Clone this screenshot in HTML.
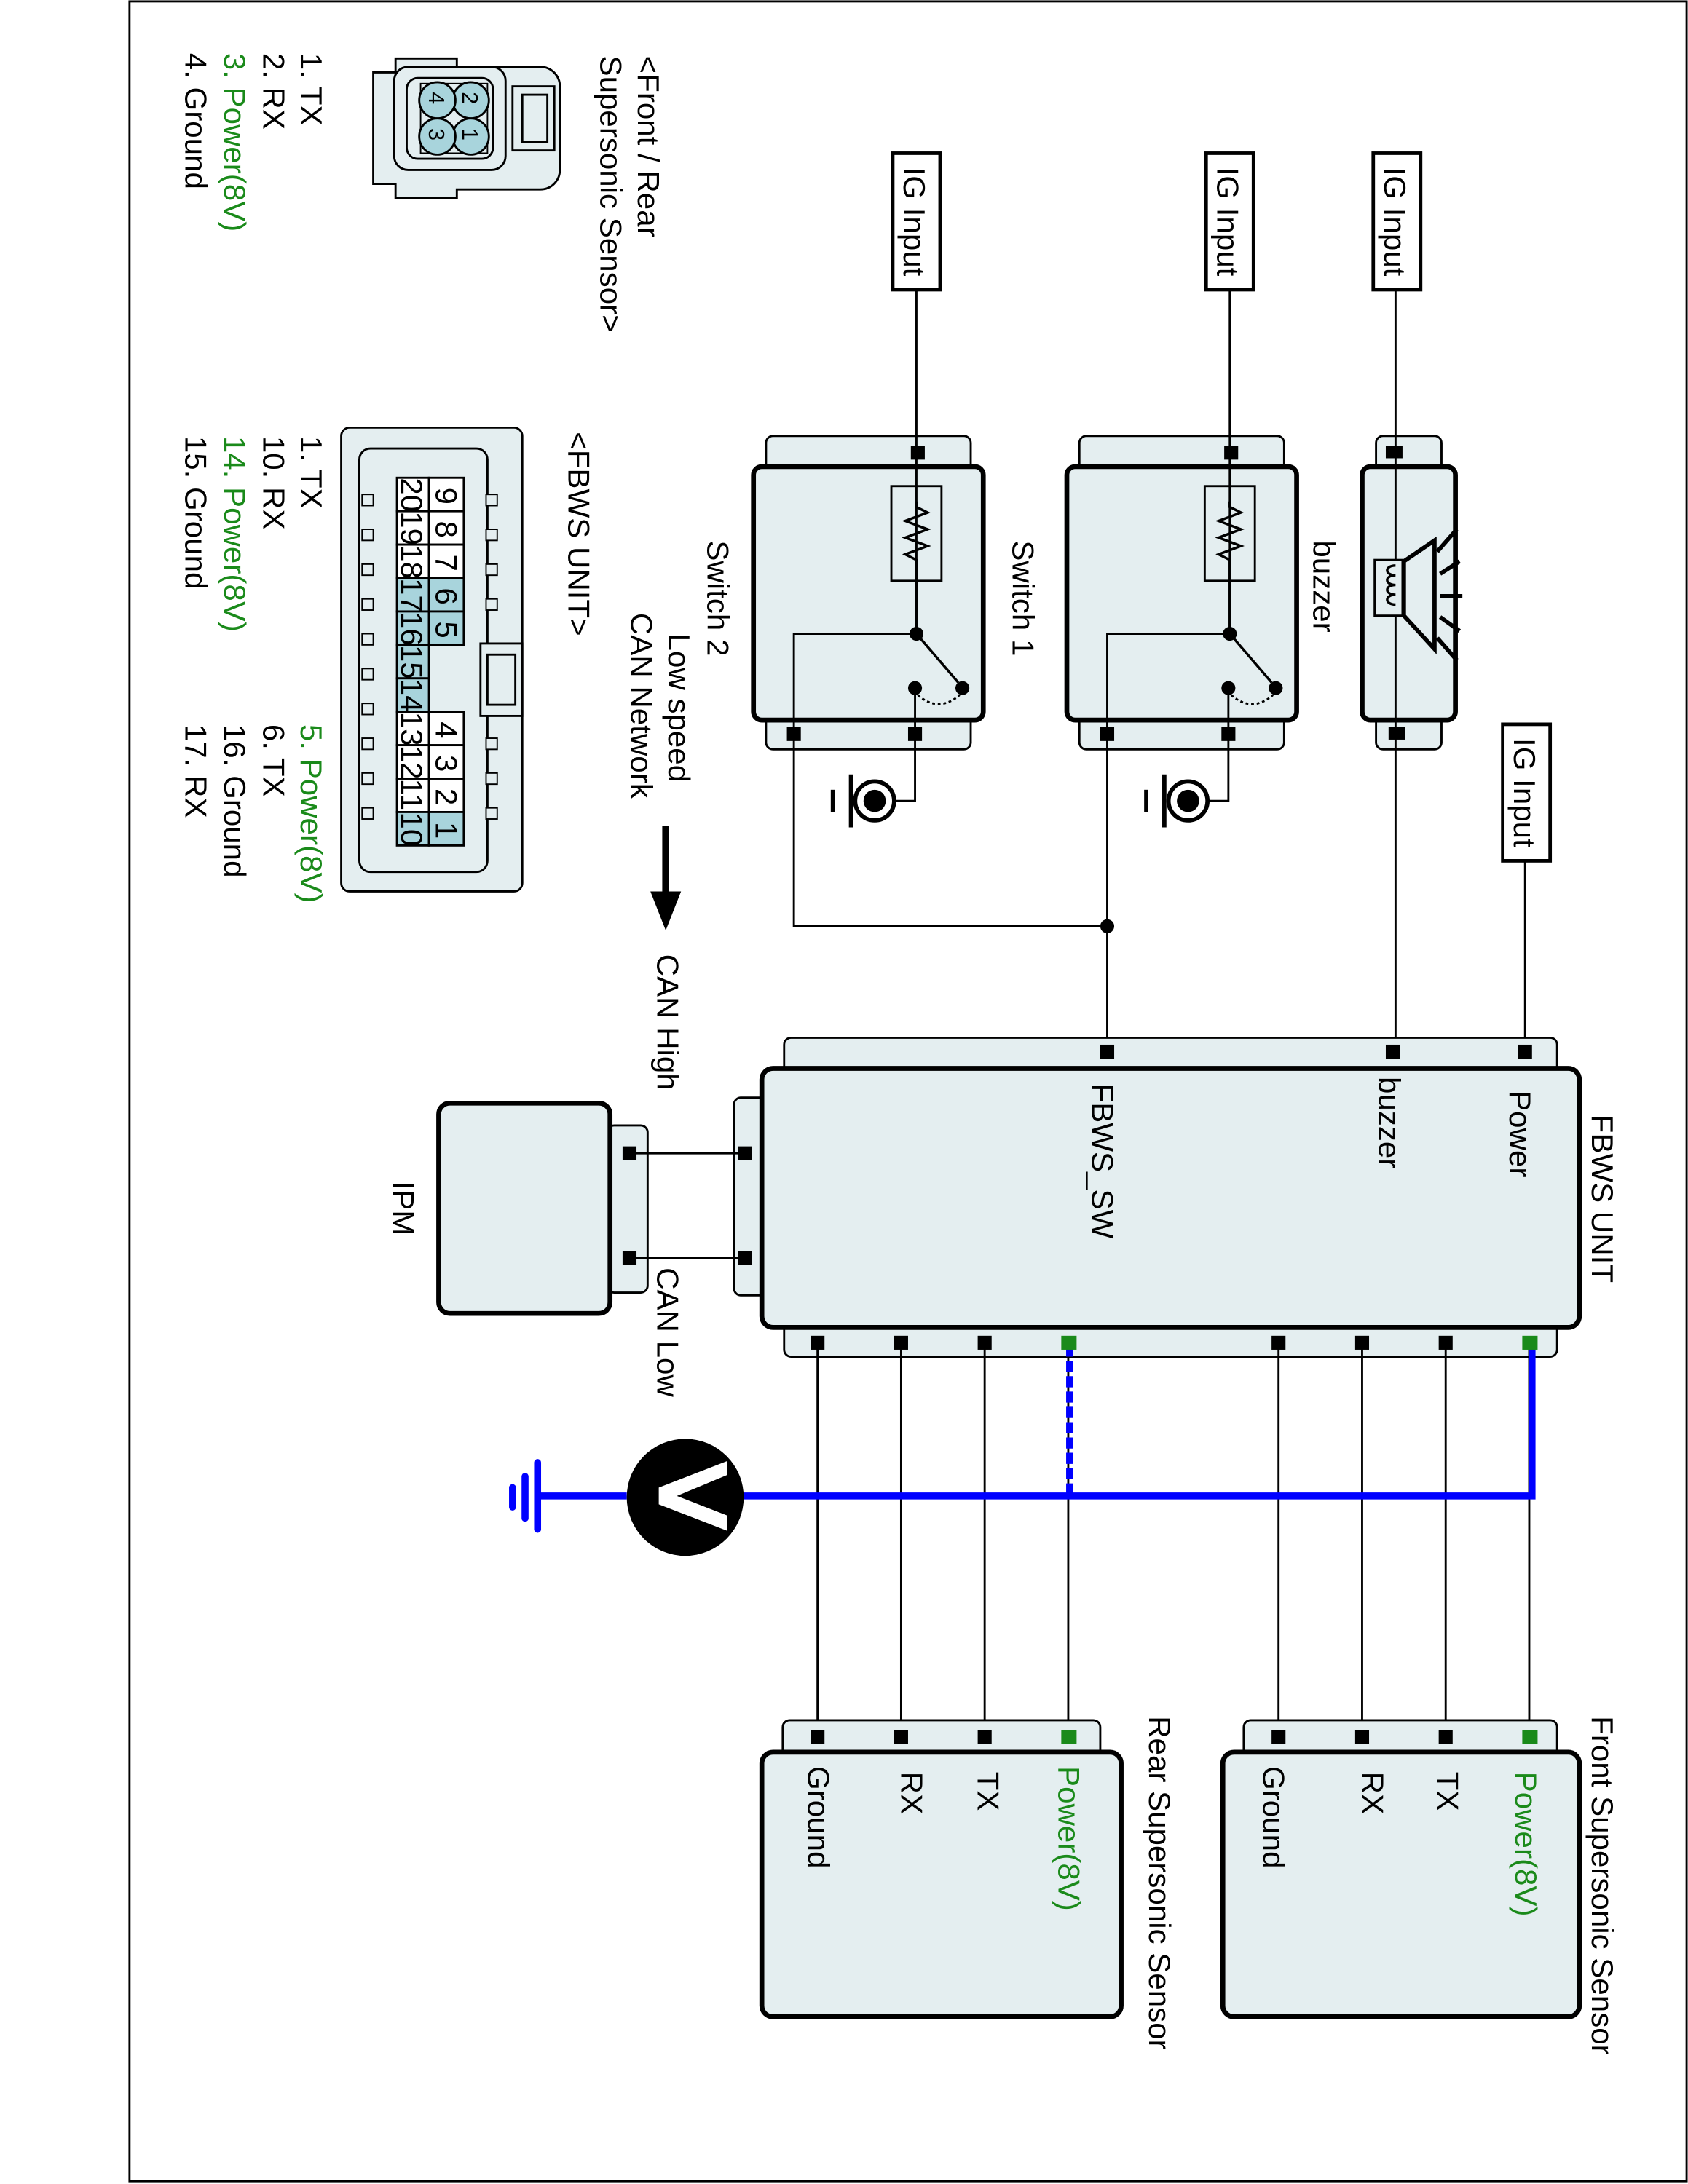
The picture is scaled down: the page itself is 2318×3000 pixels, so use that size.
<!DOCTYPE html>
<html><head><meta charset="utf-8"><style>
html,body{margin:0;padding:0;background:#fff}
svg{display:block}
text{font-family:"Liberation Sans",sans-serif;font-size:22px;fill:#000}
.g{fill:#1a8a1a}
.lf{fill:#e4eef0;stroke:#000;stroke-width:1.5}
.bx{fill:#e4eef0;stroke:#000;stroke-width:3.5}
.w{stroke:#000;stroke-width:1.5;fill:none}
</style></head><body>
<svg width="2318" height="3000" viewBox="0 0 1212 1568" preserveAspectRatio="none" xmlns="http://www.w3.org/2000/svg">
<rect x="93" y="1" width="1118" height="1565" fill="none" stroke="#000" stroke-width="1.5"/>

<!-- top-left sensor connector -->
<text transform="translate(458,40) rotate(90)">&lt;Front / Rear</text>
<text transform="translate(431,40) rotate(90)">Supersonic Sensor&gt;</text>
<g>
<path d="M268,52 h16 v-10 h44 v6 h60 a14,14 0 0 1 14,14 v60 a14,14 0 0 1 -14,14 h-60 v6 h-44 v-10 h-16 z" class="lf" stroke-width="1.5"/>
<rect x="283" y="48" width="80" height="74" rx="10" class="lf"/>
<rect x="292" y="56" width="62" height="58" rx="8" class="lf"/>
<rect x="368" y="62" width="30" height="46" class="lf"/>
<rect x="375" y="68" width="18" height="34" class="lf"/>
<rect x="302" y="60" width="48" height="50" fill="none" stroke="#000" stroke-width="1"/>
<circle cx="338" cy="72" r="13" fill="#a8d4dc" stroke="#000" stroke-width="1.5"/>
<circle cx="338" cy="98" r="13" fill="#a8d4dc" stroke="#000" stroke-width="1.5"/>
<circle cx="314" cy="72" r="13" fill="#a8d4dc" stroke="#000" stroke-width="1.5"/>
<circle cx="314" cy="98" r="13" fill="#a8d4dc" stroke="#000" stroke-width="1.5"/>
<text transform="translate(332,66) rotate(90)" style="font-size:16px">2</text>
<text transform="translate(332,92) rotate(90)" style="font-size:16px">1</text>
<text transform="translate(308,66) rotate(90)" style="font-size:16px">4</text>
<text transform="translate(308,92) rotate(90)" style="font-size:16px">3</text>
</g>
<text transform="translate(216,38) rotate(90)">1. TX</text>
<text transform="translate(189,38) rotate(90)">2. RX</text>
<text transform="translate(161,38) rotate(90)" class="g">3. Power(8V)</text>
<text transform="translate(133,38) rotate(90)">4. Ground</text>

<!-- FBWS connector -->
<text transform="translate(408,310) rotate(90)">&lt;FBWS UNIT&gt;</text>
<rect x="245" y="307" width="130" height="333" rx="6" class="lf"/>
<rect x="258" y="322" width="92" height="304" rx="8" class="lf"/>
<rect x="345" y="462" width="30" height="52" class="lf"/>
<rect x="350" y="470" width="20" height="36" class="lf"/>
<g fill="#e4eef0" stroke="#000" stroke-width="1">
<rect x="260" y="355" width="8" height="8"/><rect x="260" y="380" width="8" height="8"/><rect x="260" y="405" width="8" height="8"/><rect x="260" y="430" width="8" height="8"/><rect x="260" y="455" width="8" height="8"/><rect x="260" y="480" width="8" height="8"/><rect x="260" y="505" width="8" height="8"/><rect x="260" y="530" width="8" height="8"/><rect x="260" y="555" width="8" height="8"/><rect x="260" y="580" width="8" height="8"/>
<rect x="349" y="355" width="8" height="8"/><rect x="349" y="380" width="8" height="8"/><rect x="349" y="405" width="8" height="8"/><rect x="349" y="430" width="8" height="8"/><rect x="349" y="530" width="8" height="8"/><rect x="349" y="555" width="8" height="8"/><rect x="349" y="580" width="8" height="8"/>
</g>
<g stroke="#000" stroke-width="1.5">
<rect x="285" y="343" width="23" height="24" fill="#fff"/><rect x="285" y="367" width="23" height="24" fill="#fff"/><rect x="285" y="391" width="23" height="24" fill="#fff"/>
<rect x="285" y="415" width="23" height="24" fill="#a8d4dc"/><rect x="285" y="439" width="23" height="24" fill="#a8d4dc"/><rect x="285" y="463" width="23" height="24" fill="#a8d4dc"/><rect x="285" y="487" width="23" height="24" fill="#a8d4dc"/>
<rect x="285" y="511" width="23" height="24" fill="#fff"/><rect x="285" y="535" width="23" height="24" fill="#fff"/><rect x="285" y="559" width="23" height="24" fill="#fff"/><rect x="285" y="583" width="23" height="24" fill="#a8d4dc"/>
<rect x="308" y="343" width="25" height="24" fill="#fff"/><rect x="308" y="367" width="25" height="24" fill="#fff"/><rect x="308" y="391" width="25" height="24" fill="#fff"/>
<rect x="308" y="415" width="25" height="24" fill="#a8d4dc"/><rect x="308" y="439" width="25" height="24" fill="#a8d4dc"/>
<rect x="308" y="511" width="25" height="24" fill="#fff"/><rect x="308" y="535" width="25" height="24" fill="#fff"/><rect x="308" y="559" width="25" height="24" fill="#fff"/><rect x="308" y="583" width="25" height="24" fill="#a8d4dc"/>
</g>
<g style="font-size:16px">
<text transform="translate(288,343) rotate(90)">20</text><text transform="translate(288,367) rotate(90)">19</text><text transform="translate(288,391) rotate(90)">18</text><text transform="translate(288,415) rotate(90)">17</text><text transform="translate(288,439) rotate(90)">16</text><text transform="translate(288,463) rotate(90)">15</text><text transform="translate(288,487) rotate(90)">14</text><text transform="translate(288,511) rotate(90)">13</text><text transform="translate(288,535) rotate(90)">12</text><text transform="translate(288,559) rotate(90)">11</text><text transform="translate(288,583) rotate(90)">10</text>
<text transform="translate(313,350) rotate(90)">9</text><text transform="translate(313,374) rotate(90)">8</text><text transform="translate(313,398) rotate(90)">7</text><text transform="translate(313,422) rotate(90)">6</text><text transform="translate(313,446) rotate(90)">5</text><text transform="translate(313,518) rotate(90)">4</text><text transform="translate(313,542) rotate(90)">3</text><text transform="translate(313,566) rotate(90)">2</text><text transform="translate(313,590) rotate(90)">1</text>
</g>
<text transform="translate(216,313) rotate(90)">1. TX</text>
<text transform="translate(189,313) rotate(90)">10. RX</text>
<text transform="translate(161,313) rotate(90)" class="g">14. Power(8V)</text>
<text transform="translate(133,313) rotate(90)">15. Ground</text>
<text transform="translate(216,520) rotate(90)" class="g">5. Power(8V)</text>
<text transform="translate(189,520) rotate(90)">6. TX</text>
<text transform="translate(161,520) rotate(90)">16. Ground</text>
<text transform="translate(133,520) rotate(90)">17. RX</text>

<!-- IG inputs -->
<g class="w">
<line x1="658" y1="208" x2="658" y2="455"/>
<line x1="883" y1="208" x2="883" y2="455"/>
<line x1="1002" y1="208" x2="1002" y2="755"/>
<line x1="1095" y1="618" x2="1095" y2="755"/>
<polyline points="570,527 570,665 795,665"/>
<line x1="795" y1="455" x2="795" y2="755"/>
</g>
<circle cx="795" cy="665" r="5"/>
<rect x="641" y="110" width="34" height="98" fill="#fff" stroke="#000" stroke-width="2.5"/>
<rect x="866" y="110" width="34" height="98" fill="#fff" stroke="#000" stroke-width="2.5"/>
<rect x="986" y="110" width="34" height="98" fill="#fff" stroke="#000" stroke-width="2.5"/>
<rect x="1079" y="520" width="34" height="98" fill="#fff" stroke="#000" stroke-width="2.5"/>
<text transform="translate(649,120) rotate(90)">IG Input</text>
<text transform="translate(874,120) rotate(90)">IG Input</text>
<text transform="translate(994,120) rotate(90)">IG Input</text>
<text transform="translate(1087,530) rotate(90)">IG Input</text>

<!-- switches -->
<g id="sw">
<rect x="550" y="313" width="147" height="30" rx="5" class="lf"/>
<rect x="550" y="510" width="147" height="28" rx="5" class="lf"/>
<rect x="541" y="335" width="165" height="182" rx="6" class="bx"/>
<line x1="658" y1="313" x2="658" y2="455" class="w"/>
<rect x="654" y="320" width="10" height="10"/>
<rect x="640" y="349" width="36" height="68" fill="none" stroke="#000" stroke-width="1.5"/>
<polyline points="658,360 658,364 666,368 650,374 666,380 650,386 666,392 650,398 658,402 658,455" fill="none" stroke="#000" stroke-width="1.8"/>
<polyline points="658,455 570,455 570,538" class="w"/>
<circle cx="658" cy="455" r="5"/>
<line x1="658" y1="455" x2="688" y2="490" stroke="#000" stroke-width="1.8"/>
<circle cx="691" cy="494" r="5"/>
<circle cx="657" cy="494" r="5"/>
<path d="M659,499 Q674,512 689,499" fill="none" stroke="#000" stroke-width="1.5" stroke-dasharray="2,2"/>
<polyline points="657,494 657,575 642,575" class="w"/>
<rect x="565" y="522" width="10" height="10"/><rect x="652" y="522" width="10" height="10"/>
<circle cx="628" cy="575" r="14" fill="#fff" stroke="#000" stroke-width="3"/>
<circle cx="628" cy="575" r="8"/>
<line x1="611" y1="556" x2="611" y2="594" stroke="#000" stroke-width="3"/>
<line x1="598" y1="567" x2="598" y2="583" stroke="#000" stroke-width="3"/>
</g>
<use href="#sw" transform="translate(225,0)"/>
<text transform="translate(508,388) rotate(90)">Switch 2</text>
<text transform="translate(727,388) rotate(90)">Switch 1</text>

<!-- buzzer -->
<rect x="988" y="313" width="47" height="30" rx="5" class="lf"/>
<rect x="988" y="510" width="47" height="28" rx="5" class="lf"/>
<rect x="978" y="335" width="67" height="182" rx="6" class="bx"/>
<line x1="1002" y1="313" x2="1002" y2="538" class="w"/>
<rect x="995" y="320" width="12" height="9"/><rect x="997" y="522" width="12" height="9"/>
<rect x="987" y="402" width="20" height="40" fill="#e4eef0" stroke="#000" stroke-width="1.5"/>
<path d="M1002,406 c-8,0 -8,7 0,7 c-8,0 -8,7 0,7 c-8,0 -8,7 0,7 c-8,0 -8,7 0,7" fill="none" stroke="#000" stroke-width="1.8"/>
<polygon points="1008,403 1030,388 1030,466 1008,442" fill="none" stroke="#000" stroke-width="3"/>
<g stroke="#000" stroke-width="3"><line x1="1032" y1="396" x2="1046" y2="380"/><line x1="1034" y1="412" x2="1048" y2="403"/><line x1="1034" y1="428" x2="1050" y2="428"/><line x1="1034" y1="443" x2="1048" y2="453"/><line x1="1032" y1="458" x2="1046" y2="474"/></g>
<text transform="translate(943,388) rotate(90)">buzzer</text>

<!-- CAN network -->
<text transform="translate(480,455) rotate(90)">Low speed</text>
<text transform="translate(453,440) rotate(90)">CAN Network</text>
<line x1="478" y1="593" x2="478" y2="645" stroke="#000" stroke-width="5"/>
<polygon points="467,640 489,640 478,668"/>
<text transform="translate(472,685) rotate(90)">CAN High</text>
<text transform="translate(472,910) rotate(90)">CAN Low</text>

<!-- FBWS UNIT -->
<rect x="563" y="745" width="555" height="30" rx="5" class="lf"/>
<rect x="563" y="945" width="555" height="29" rx="5" class="lf"/>
<rect x="527" y="788" width="30" height="142" rx="5" class="lf"/>
<rect x="547" y="767" width="587" height="186" rx="8" class="bx"/>
<rect x="790" y="750" width="10" height="10"/><rect x="995" y="750" width="10" height="10"/><rect x="1090" y="750" width="10" height="10"/>
<text transform="translate(1143,800) rotate(90)">FBWS UNIT</text>
<text transform="translate(1084,783) rotate(90)">Power</text>
<text transform="translate(990,773) rotate(90)">buzzer</text>
<text transform="translate(784,778) rotate(90)">FBWS_SW</text>

<!-- IPM -->
<rect x="436" y="808" width="29" height="120" rx="5" class="lf"/>
<rect x="315" y="792" width="123" height="151" rx="8" class="bx"/>
<line x1="452" y1="828" x2="535" y2="828" class="w"/>
<line x1="452" y1="903" x2="535" y2="903" class="w"/>
<rect x="447" y="823" width="10" height="10"/><rect x="447" y="898" width="10" height="10"/>
<rect x="530" y="823" width="10" height="10"/><rect x="530" y="898" width="10" height="10"/>
<text transform="translate(282,848) rotate(90)">IPM</text>

<!-- sensor wires -->
<g class="w">
<line x1="587" y1="964" x2="587" y2="1247"/><line x1="647" y1="964" x2="647" y2="1247"/><line x1="707" y1="964" x2="707" y2="1247"/><line x1="767" y1="964" x2="767" y2="1247"/>
<line x1="918" y1="964" x2="918" y2="1247"/><line x1="978" y1="964" x2="978" y2="1247"/><line x1="1038" y1="964" x2="1038" y2="1247"/><line x1="1098" y1="964" x2="1098" y2="1247"/>
</g>
<polyline points="1100,966 1100,1074 530,1074" fill="none" stroke="#0000ff" stroke-width="5"/>
<line x1="768" y1="966" x2="768" y2="1074" stroke="#0000ff" stroke-width="5" stroke-dasharray="8,3"/>
<line x1="450" y1="1074" x2="386" y2="1074" stroke="#0000ff" stroke-width="5"/>
<g stroke="#0000ff" stroke-width="5" stroke-linecap="round"><line x1="386" y1="1050" x2="386" y2="1098"/><line x1="377" y1="1060" x2="377" y2="1090"/><line x1="368" y1="1068" x2="368" y2="1082"/></g>
<circle cx="492" cy="1075" r="42"/>
<polygon points="522,1049 522,1059 486,1074 522,1088 522,1099 473,1080 473,1068" fill="#fff"/>
<g>
<rect x="582" y="959" width="10" height="10"/><rect x="642" y="959" width="10" height="10"/><rect x="702" y="959" width="10" height="10"/><rect x="762" y="959" width="11" height="10" fill="#1a8a1a"/>
<rect x="913" y="959" width="10" height="10"/><rect x="973" y="959" width="10" height="10"/><rect x="1033" y="959" width="10" height="10"/><rect x="1093" y="959" width="11" height="10" fill="#1a8a1a"/>
</g>

<!-- Rear sensor -->
<rect x="562" y="1235" width="228" height="30" rx="5" class="lf"/>
<rect x="547" y="1258" width="258" height="190" rx="8" class="bx"/>
<rect x="582" y="1242" width="10" height="10"/><rect x="642" y="1242" width="10" height="10"/><rect x="702" y="1242" width="10" height="10"/><rect x="762" y="1242" width="11" height="10" fill="#1a8a1a"/>
<text transform="translate(580,1268) rotate(90)">Ground</text>
<text transform="translate(647,1272) rotate(90)">RX</text>
<text transform="translate(702,1272) rotate(90)">TX</text>
<text transform="translate(760,1268) rotate(90)" class="g">Power(8V)</text>
<text transform="translate(825,1232) rotate(90)">Rear Supersonic Sensor</text>

<!-- Front sensor -->
<rect x="893" y="1235" width="225" height="30" rx="5" class="lf"/>
<rect x="878" y="1258" width="256" height="190" rx="8" class="bx"/>
<rect x="913" y="1242" width="10" height="10"/><rect x="973" y="1242" width="10" height="10"/><rect x="1033" y="1242" width="10" height="10"/><rect x="1093" y="1242" width="11" height="10" fill="#1a8a1a"/>
<text transform="translate(907,1268) rotate(90)">Ground</text>
<text transform="translate(978,1272) rotate(90)">RX</text>
<text transform="translate(1032,1272) rotate(90)">TX</text>
<text transform="translate(1088,1272) rotate(90)" class="g">Power(8V)</text>
<text transform="translate(1143,1232) rotate(90)">Front Supersonic Sensor</text>
</svg>
</body></html>
